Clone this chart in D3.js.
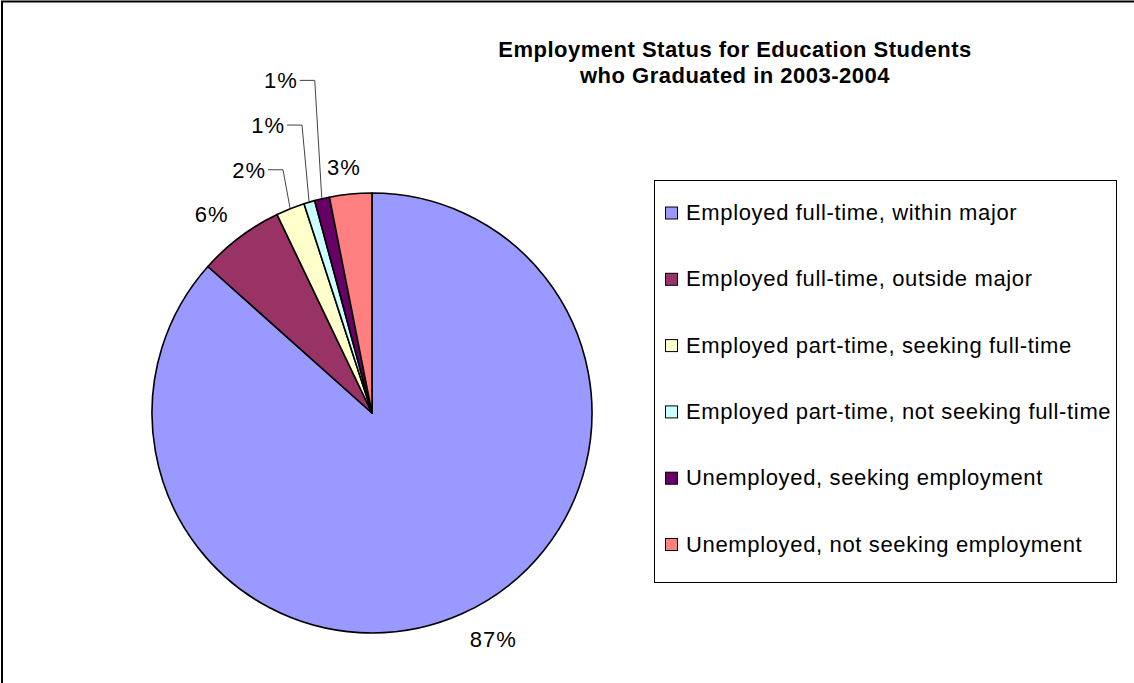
<!DOCTYPE html>
<html><head><meta charset="utf-8">
<script src="https://cdn.jsdelivr.net/npm/d3@7"></script>
<style>html,body{margin:0;padding:0;background:#fff;} svg{display:block;}</style>
</head><body>
<svg id="chart" width="1134" height="683"></svg>
<script>
const categories = [
  "Employed full-time, within major",
  "Employed full-time, outside major",
  "Employed part-time, seeking full-time",
  "Employed part-time, not seeking full-time",
  "Unemployed, seeking employment",
  "Unemployed, not seeking employment"
];
const values = [86.6, 6.3, 2.1, 0.8, 1.1, 3.1];
const colors = ["#9999FF", "#993366", "#FFFFCC", "#CCFFFF", "#660066", "#FF8080"];
const titleLines = ["Employment Status for Education Students", "who Graduated in 2003-2004"];
// label stacking rows for crowded small slices (null = normal outside label)
const labelStack = [null, null, 0, 1, 2, null];

const svg = d3.select("#chart");
const W = 1134, H = 683;
const font = "'Liberation Sans', Arial, sans-serif";

// outer chart border (right/bottom edges cropped off in the reference)
svg.append("rect").attr("x", 2).attr("y", 1.5).attr("width", W + 20).attr("height", H + 20)
  .attr("fill", "none").attr("stroke", "#000").attr("stroke-width", 2);

// title
const title = svg.append("text").attr("font-family", font).attr("font-weight", "bold")
  .attr("font-size", 22).attr("letter-spacing", 0.5).attr("text-anchor", "middle").attr("fill", "#000");
titleLines.forEach((t, i) => title.append("tspan").attr("x", 735).attr("y", 57 + i * 26).text(t));

// pie (clockwise from 12 o'clock)
const cx = 372, cy = 413, r = 220;
const total = d3.sum(values);
const pie = d3.pie().sort(null).value(d => d);
const arcs = pie(values);
const arc = d3.arc().innerRadius(0).outerRadius(r);
const g = svg.append("g").attr("transform", `translate(${cx},${cy})`);
g.selectAll("path").data(arcs).join("path")
  .attr("d", arc)
  .attr("fill", (d, i) => colors[i])
  .attr("stroke", "#000").attr("stroke-width", 1.6).attr("stroke-linejoin", "round");

const fmt = v => Math.round(v / total * 100) + "%";
const labelSize = 22;
const gap = 19;
const capH = 16;
const clamp = t => Math.max(-1, Math.min(1, 3 * t));

function midPoint(d, rad) {
  const a = (d.startAngle + d.endAngle) / 2;
  return [rad * Math.sin(a), -rad * Math.cos(a), a];
}

// normal labels
const lg = svg.append("g").attr("font-family", font).attr("font-size", labelSize)
  .attr("letter-spacing", 1).attr("fill", "#000");
arcs.forEach((d, i) => {
  const txt = fmt(values[i]);
  if (labelStack[i] === null) {
    const [px, py, a] = midPoint(d, r);
    const ux = Math.sin(a), uy = -Math.cos(a);
    const t = lg.append("text").attr("text-anchor", "middle").attr("dy", "0.36em").text(txt);
    const w = t.node().getComputedTextLength();
    const lx = cx + px + ux * gap + clamp(ux) * w / 2;
    const ly = cy + py + uy * gap + clamp(uy) * capH / 2;
    t.attr("x", lx).attr("y", ly);
  }
});

// stacked labels with leader lines
const stacked = arcs.map((d, i) => ({ d, i })).filter(o => labelStack[o.i] !== null);
const ends = stacked.map(o => { const [px, py] = midPoint(o.d, r + 1); return [cx + px, cy + py]; });
const rowBase = d3.max(ends, e => e[1]) - 38;
stacked.forEach((o, k) => {
  const [ex, ey] = ends[k];
  const rowY = rowBase - labelStack[o.i] * 44.7;
  const elbowX = ex - 7;
  const segStart = elbowX - 15;
  svg.append("polyline")
    .attr("points", `${segStart},${rowY} ${elbowX},${rowY} ${ex},${ey}`)
    .attr("fill", "none").attr("stroke", "#444").attr("stroke-width", 1);
  lg.append("text").attr("x", segStart - 2).attr("y", rowY).attr("text-anchor", "end")
    .attr("dy", "0.36em").text(fmt(values[o.i]));
});

// legend
const legX = 654.5, legY = 180.5, legW = 462, legH = 402;
svg.append("rect").attr("x", legX).attr("y", legY).attr("width", legW).attr("height", legH)
  .attr("fill", "#fff").attr("stroke", "#000").attr("stroke-width", 1);
const leg = svg.append("g").attr("font-family", font).attr("font-size", 22).attr("letter-spacing", 0.65);
categories.forEach((c, i) => {
  const by = 220 + i * 66.3;
  leg.append("rect").attr("x", 665.5).attr("y", by - 13).attr("width", 12).attr("height", 12)
    .attr("fill", colors[i]).attr("stroke", "#000").attr("stroke-width", 1);
  leg.append("text").attr("x", 686).attr("y", by).attr("fill", "#000").text(c);
});
</script>
</body></html>
